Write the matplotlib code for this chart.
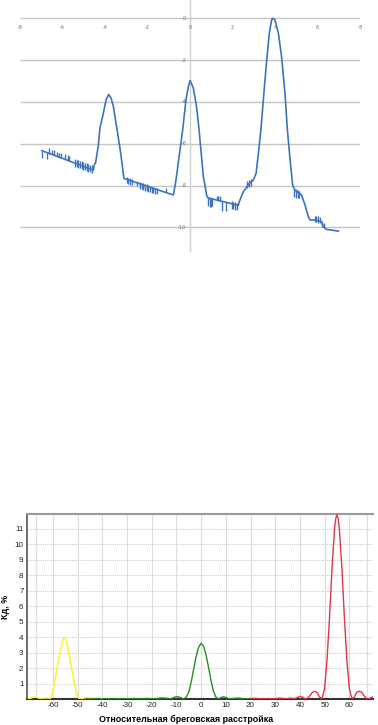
import matplotlib.pyplot as plt

# --- upper chart (spectrum) ---
top_x = [-6.98, -6.74, -6.5, -6.2, -5.9, -5.6, -5.3, -5.0, -4.75, -4.55, -4.5, -4.44,
         -4.31, -4.24, -4.08, -3.95, -3.83, -3.72, -3.61, -3.5, -3.42, -3.26, -3.11,
         -2.9, -2.5, -2.0, -1.5, -1.0, -0.78, -0.66, -0.47, -0.34, -0.19, -0.08, 0.01,
         0.16, 0.31, 0.42, 0.47, 0.63, 0.79, 0.86, 1.2, 1.6, 2.0, 2.27, 2.32, 2.51,
         2.79, 2.98, 3.11, 3.22, 3.34, 3.45, 3.61, 3.73, 3.84, 3.89, 4.0, 4.16, 4.31,
         4.47, 4.58, 4.71, 4.83, 4.94, 5.25, 5.41, 5.57, 5.65, 5.88, 6.2, 6.27, 6.43, 6.98]
top_y = [-6.33, -6.42, -6.51, -6.63, -6.74, -6.86, -6.97, -7.09, -7.18, -7.26, -7.0, -6.9,
         -6.06, -5.26, -4.55, -3.91, -3.64, -3.8, -4.2, -4.9, -5.4, -6.46, -7.66,
         -7.73, -7.87, -8.04, -8.21, -8.38, -8.45, -7.74, -6.3, -5.3, -3.91, -3.27, -2.98,
         -3.35, -4.23, -5.26, -5.82, -7.58, -8.5, -8.6, -8.68, -8.78, -8.88, -8.95, -8.77, -8.3,
         -7.9, -7.74, -7.42, -6.46, -5.3, -3.91, -2.0, -0.72, -0.08, 0.0, -0.08, -0.72, -1.84,
         -3.59, -5.3, -6.78, -7.98, -8.22, -8.45, -8.93, -9.49, -9.65, -9.65, -9.73, -9.97, -10.1, -10.18]

# noisy vertical teeth on the flat parts
spike_x = [-6.98, -6.74, -6.62, -6.51, -6.40, -6.27, -6.17, -6.07, -5.88, -5.76, -5.68,
           -5.41, -5.33, -5.25, -5.18, -5.10, -5.02, -4.94, -4.86, -4.78, -4.71, -4.63,
           -2.98, -2.9, -2.82, -2.75, -2.51, -2.35, -2.27, -2.2, -2.12, -2.04, -1.96,
           -1.88, -1.80, -1.73, -1.65, -1.57, -1.15,
           0.86, 0.92, 0.98, 1.05, 1.28, 1.33, 1.4, 1.5, 1.69, 1.96, 2.04, 2.12, 2.2,
           2.7, 2.78, 2.86,
           4.9, 4.98, 5.06, 5.14, 5.88, 5.95, 6.02, 6.1, 6.22, 6.3]
spike_lo = [-6.7, -6.75, -6.47, -6.51, -6.55, -6.6, -6.64, -6.68, -6.75, -6.8, -6.83,
            -7.1, -7.13, -7.15, -7.18, -7.22, -7.25, -7.28, -7.3, -7.33, -7.36, -7.4,
            -7.9, -7.93, -7.96, -7.98, -8.0, -8.15, -8.18, -8.2, -8.25, -8.28, -8.3,
            -8.33, -8.35, -8.38, -8.4, -8.4, -8.33,
            -9.0, -9.02, -9.02, -9.0, -8.7, -8.72, -8.74, -9.2, -9.2, -9.1, -9.12, -9.15, -9.15,
            -8.1, -8.05, -8.0,
            -8.55, -8.6, -8.6, -8.6, -9.75, -9.75, -9.78, -9.78, -10.0, -10.02]
spike_hi = [-6.33, -6.42, -6.2, -6.28, -6.3, -6.38, -6.42, -6.45, -6.5, -6.55, -6.6,
            -6.73, -6.76, -6.78, -6.82, -6.85, -6.88, -6.9, -6.94, -6.97, -7.0, -7.03,
            -7.6, -7.62, -7.66, -7.7, -7.8, -7.85, -7.88, -7.9, -7.92, -7.95, -7.98,
            -8.0, -8.05, -8.08, -8.1, -8.12, -8.12,
            -8.55, -8.55, -8.58, -8.6, -8.5, -8.5, -8.52, -8.75, -8.8, -8.75, -8.78, -8.8, -8.82,
            -7.8, -7.72, -7.7,
            -8.15, -8.15, -8.2, -8.25, -9.45, -9.45, -9.48, -9.5, -9.75, -9.78]

top_xticks = [-8, -6, -4, -2, 0, 2, 4, 6, 8]
top_yticks = [0, -2, -4, -6, -8, -10]

# --- lower chart (Kd vs relative Bragg detuning) ---
yellow_x = [-70, -69, -68, -67, -66, -65, -64, -63, -62, -61, -60, -59, -58, -57, -56, -55.5,
            -55, -54, -53, -52, -51, -50, -49, -48, -47, -46, -45, -44, -43, -42, -41, -40]
yellow_y = [0.0, 0.05, 0.12, 0.13, 0.08, 0.02, 0.0, 0.0, 0.0, 0.02, 0.55, 1.4, 2.3, 3.15, 3.8, 4.0,
            3.9, 3.35, 2.5, 1.6, 0.75, 0.1, 0.02, 0.04, 0.08, 0.1, 0.07, 0.02, 0.0, 0.02, 0.03, 0.01]

green_x = [-45, -42, -40, -37, -35, -32, -30, -27, -25, -22, -20, -18, -16, -14, -13, -12, -11,
           -10, -9, -8, -7, -6, -5, -4, -3, -2, -1, 0, 1, 2, 3, 4, 5, 6, 7, 8, 9, 10, 11, 12,
           14, 15, 16, 18, 20, 22, 24, 27, 30]
green_y = [0.01, 0.03, 0.0, 0.02, 0.03, 0.0, 0.02, 0.03, 0.0, 0.04, 0.02, 0.03, 0.07, 0.05, 0.02, 0.03, 0.1,
           0.15, 0.13, 0.06, 0.01, 0.12, 0.45, 1.1, 1.95, 2.75, 3.35, 3.6, 3.4, 2.85, 2.05, 1.2, 0.5, 0.12, 0.0, 0.09, 0.14, 0.1, 0.03, 0.01,
           0.05, 0.06, 0.04, 0.01, 0.03, 0.04, 0.01, 0.02, 0.0]

red_x = [20, 23, 25, 27, 29, 31, 32, 33, 35, 36, 37, 38, 39, 40, 41, 42, 43, 44, 45, 46, 47, 48,
         49, 50, 51, 52, 53, 54, 54.5, 55, 55.5, 56, 57, 58, 59, 60, 61, 62, 63, 64, 65, 66,
         67, 68, 69, 70]
red_y = [0.0, 0.02, 0.0, 0.03, 0.01, 0.04, 0.06, 0.03, 0.02, 0.06, 0.04, 0.02, 0.1, 0.17, 0.12, 0.02, 0.05, 0.2, 0.42, 0.5, 0.42, 0.12,
         0.03, 0.69, 2.56, 5.3, 8.45, 10.95, 11.65, 11.9, 11.65, 10.95, 8.45, 5.3, 2.56, 0.69, 0.04, 0.11, 0.43, 0.5, 0.44, 0.2,
         0.04, 0.02, 0.1, 0.15]

bot_xticks = [-60, -50, -40, -30, -20, -10, 0, 10, 20, 30, 40, 50, 60]
bot_vgrid = [-67, -60, -50, -40, -30, -20, -10, 0, 10, 20, 30, 40, 50, 60, 67]
bot_yticks = [1, 2, 3, 4, 5, 6, 7, 8, 9, 10, 11]

W, H = 378, 725
fig = plt.figure(figsize=(W / 100, H / 100), dpi=100)

# upper chart
ax1 = fig.add_axes([20 / W, (H - 252) / H, 340 / W, 252 / H])
ax1.set_xlim(-8, 8)
ax1.set_ylim(-11.18, 0.876)
ax1.axis('off')
ax1.hlines(top_yticks, -8, 8, color='#c4c4c4', lw=1.0, zorder=1)
ax1.axvline(0, color='#cfcfcf', lw=1.0, zorder=1)
for t in top_xticks:
    ax1.text(t, -0.45, str(t), ha='center', va='center', fontsize=3.5, color='#707070')
for t in top_yticks:
    ax1.text(-0.18, t, str(t), ha='right', va='center', fontsize=3.5, color='#707070')
ax1.plot(top_x, top_y, color='#3e74bd', lw=1.2, zorder=3)
ax1.vlines(spike_x, spike_lo, spike_hi, color='#3e74bd', lw=1.0, zorder=3)

# lower chart
ax2 = fig.add_axes([27 / W, (H - 699) / H, 346 / W, 185 / H])
ax2.set_xlim(-70.5, 69.6)
ax2.set_ylim(0, 11.95)
for v in bot_vgrid:
    ax2.axvline(v, color='#dcdcdc', lw=0.8, zorder=1)
for v in bot_yticks:
    ax2.axhline(v, color='#c8c8c8', lw=0.7, ls=(0, (1, 1)), zorder=1)
ax2.plot(yellow_x, yellow_y, color='#f5f530', lw=1.1, zorder=3)
ax2.plot(green_x, green_y, color='#2b8a2b', lw=1.0, zorder=3)
ax2.plot(red_x, red_y, color='#e0354a', lw=1.0, zorder=3)

ax2.set_xticks(bot_xticks)
ax2.set_xticklabels([str(t) for t in bot_xticks], family='Liberation Sans', fontsize=5.8, color='#222222')
ax2.set_yticks(bot_yticks)
ax2.set_yticklabels([str(t) for t in bot_yticks], family='Liberation Sans', fontsize=5.8, color='#222222')
ax2.tick_params(length=0, pad=2.5)
ax2.spines['right'].set_visible(False)
ax2.spines['top'].set_color('#999999')
ax2.spines['top'].set_linewidth(1.5)
ax2.spines['left'].set_color('#555555')
ax2.spines['left'].set_linewidth(1.2)
ax2.spines['bottom'].set_color('#333333')
ax2.spines['bottom'].set_linewidth(1.5)
ax2.set_xlabel('Относительная бреговская расстройка', family='Liberation Sans',
               fontweight='bold', fontsize=6.4)
ax2.xaxis.set_label_coords(0.461, -0.085)
ax2.set_ylabel('Кд, %', family='Liberation Sans', fontweight='bold', fontsize=6.4, labelpad=3)

fig.savefig('out.png', dpi=100)
